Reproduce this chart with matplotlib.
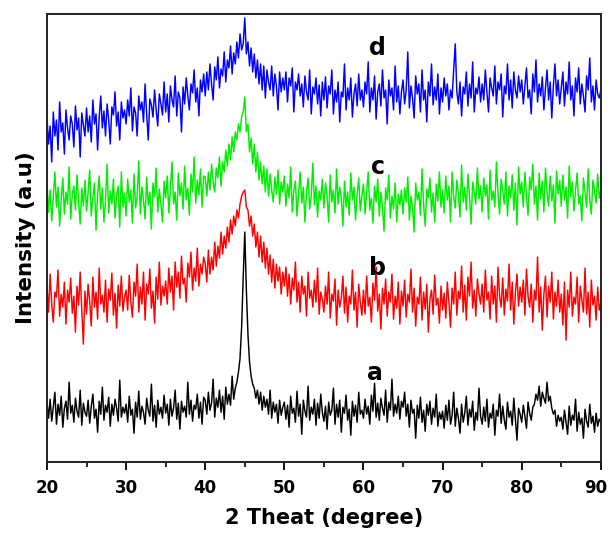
import numpy as np
import matplotlib
matplotlib.use("Agg")
import matplotlib.pyplot as plt
from matplotlib.ticker import MultipleLocator
from matplotlib.transforms import ScaledTranslation

# --------------------------------------------------
# 1. Data (0.2 deg steps from 20 to 90)
#    one line = 5 degrees
# --------------------------------------------------
start_deg = 20.0
step_deg = 0.2

series_a = [
    60, 44, 63, 41, 55, 70, 38, 58, 47, 66, 35, 54, 61, 43, 80, 49, 57, 40, 64, 51, 45, 72, 37, 59, 50,
    46, 62, 39, 56, 68, 44, 53, 30, 61, 48, 75, 42, 57, 50, 65, 36, 58, 47, 63, 54, 41, 82, 45, 55, 49,
    58, 40, 66, 47, 53, 29, 60, 45, 71, 43, 56, 50, 38, 64, 52, 46, 78, 41, 57, 35, 62, 48, 55, 44, 67,
    49, 58, 37, 63, 46, 54, 72, 43, 59, 33, 61, 50, 56, 45, 80, 48, 62, 41, 57, 53, 68, 44, 60, 38, 65,
    62, 48, 70, 52, 59, 83, 45, 64, 55, 72, 50, 66, 43, 75, 58, 68, 57, 86, 63, 74, 80, 90, 104, 135, 185,
    230, 172, 128, 100, 86, 78, 74, 64, 72, 58, 70, 52, 66, 55, 63, 48, 72, 44, 60, 50, 58, 39, 62, 47, 55,
    60, 43, 57, 35, 66, 49, 54, 40, 71, 46, 58, 28, 62, 51, 45, 76, 42, 55, 48, 63, 37, 59, 44, 68, 50,
    41, 56, 33, 60, 47, 52, 74, 38, 58, 45, 62, 30, 55, 49, 67, 42, 53, 27, 61, 46, 57, 40, 70, 48, 52,
    44, 63, 48, 56, 38, 67, 51, 79, 45, 59, 42, 64, 54, 47, 72, 40, 60, 52, 83, 46, 58, 49, 66, 43, 61,
    55, 70, 46, 58, 35, 62, 49, 53, 24, 57, 44, 65, 40, 52, 31, 58, 47, 61, 38, 54, 45, 68, 36, 50, 43,
    51, 34, 57, 42, 62, 38, 47, 70, 36, 54, 44, 29, 58, 40, 49, 66, 37, 53, 45, 61, 32, 50, 42, 74, 46,
    38, 55, 41, 63, 35, 49, 44, 58, 27, 52, 46, 68, 39, 56, 42, 33, 60, 45, 51, 37, 64, 43, 22, 54, 48,
    40, 57, 46, 34, 60, 49, 42, 55, 58, 68, 62, 76, 56, 70, 64, 59, 80, 61, 66, 54, 48, 52, 36, 47, 41,
    45, 33, 52, 40, 28, 56, 37, 47, 42, 63, 31, 50, 38, 44, 24, 53, 41, 35, 58, 39, 46, 30, 49, 36, 43,
    40,
]

series_b = [
    175, 150, 188, 158, 140, 170, 165, 192, 146, 168, 155, 180, 138, 172, 160, 184, 149, 166, 130, 176, 157, 190, 152, 118, 171,
    148, 178, 160, 136, 185, 155, 170, 143, 194, 158, 167, 150, 182, 140, 173, 162, 189, 147, 169, 134, 177, 156, 186, 151, 165,
    172, 152, 187, 160, 145, 180, 166, 198, 150, 175, 158, 190, 142, 178, 168, 193, 154, 171, 139, 185, 163, 200, 157, 176, 166,
    181, 158, 194, 170, 186, 152, 200, 175, 190, 164, 206, 178, 184, 160, 199, 185, 210, 172, 194, 181, 214, 176, 198, 188, 205,
    198, 180, 212, 188, 205, 192, 220, 196, 216, 204, 230, 208, 226, 214, 235, 220, 242, 228, 246, 236, 252, 244, 258, 266, 270,
    272, 255, 252, 236, 246, 226, 238, 215, 230, 205, 226, 200, 220, 194, 214, 188, 207, 180, 203, 174, 198, 181, 195, 168, 190,
    176, 195, 166, 188, 158, 184, 172, 200, 160, 180, 150, 186, 168, 176, 146, 190, 164, 172, 155, 182, 160, 194, 148, 170, 163,
    150, 176, 158, 190, 144, 168, 161, 183, 137, 172, 155, 164, 186, 149, 175, 140, 166, 158, 192, 152, 170, 135, 178, 160, 147,
    172, 148, 186, 156, 165, 140, 179, 162, 195, 151, 168, 133, 174, 158, 183, 146, 170, 160, 188, 143, 166, 154, 180, 138, 171,
    156, 182, 145, 168, 160, 193, 150, 174, 136, 165, 158, 185, 142, 170, 153, 178, 130, 163, 172, 148, 187, 157, 164, 139, 176,
    152, 169, 144, 180, 160, 135, 174, 158, 190, 147, 171, 163, 196, 150, 177, 142, 185, 166, 200, 154, 172, 146, 183, 168, 158,
    178, 150, 192, 162, 170, 143, 186, 158, 176, 140, 195, 166, 155, 184, 147, 173, 161, 198, 152, 180, 138, 169, 188, 156, 175,
    160, 182, 147, 193, 166, 155, 178, 140, 172, 162, 205, 150, 175, 132, 168, 186, 145, 176, 160, 190, 143, 170, 156, 182, 150,
    168, 137, 180, 122, 172, 155, 190, 146, 165, 158, 185, 140, 176, 162, 150, 194, 148, 170, 135, 182, 157, 166, 142, 175, 152,
    160,
]

series_c = [
    280, 250, 272, 241, 266, 290, 255, 275, 236, 262, 284, 248, 270, 258, 295, 243, 268, 276, 252, 287, 260, 238, 274, 256, 282,
    251, 270, 292, 246, 264, 279, 232, 268, 286, 253, 274, 240, 262, 298, 249, 271, 258, 283, 244, 267, 276, 235, 290, 255, 269,
    246, 283, 260, 272, 239, 288, 254, 266, 301, 248, 275, 262, 243, 285, 257, 270, 233, 279, 265, 294, 250, 273, 258, 240, 281,
    264, 286, 249, 275, 300, 258, 270, 242, 289, 266, 279, 253, 296, 262, 274, 247, 288, 270, 305, 259, 282, 267, 293, 255, 286,
    285, 266, 290, 272, 298, 280, 270, 294, 284, 305, 276, 300, 290, 312, 296, 318, 302, 325, 310, 330, 322, 338, 330, 345, 350,
    365, 330, 338, 310, 324, 298, 318, 290, 310, 282, 300, 278, 296, 270, 293, 266, 288, 272, 260, 285, 268, 292, 258, 280, 270,
    286, 256, 278, 264, 295, 250, 272, 281, 246, 268, 290, 259, 275, 240, 270, 284, 253, 266, 299, 257, 276, 245, 271, 262, 283,
    254, 279, 266, 240, 287, 260, 272, 249, 293, 258, 275, 264, 236, 281, 255, 270, 247, 289, 262, 275, 242, 268, 284, 251, 266,
    278, 248, 269, 290, 252, 264, 239, 276, 260, 283, 246, 270, 255, 231, 274, 262, 287, 244, 266, 253, 279, 240, 268, 257, 272,
    248, 274, 260, 285, 242, 266, 255, 230, 279, 262, 270, 247, 293, 258, 236, 273, 264, 284, 250, 269, 240, 278, 261, 290, 255,
    272, 249, 286, 262, 276, 240, 290, 266, 254, 282, 268, 245, 297, 260, 275, 252, 288, 265, 238, 280, 270, 258, 294, 263, 276,
    250, 284, 266, 277, 243, 292, 262, 271, 255, 300, 268, 248, 283, 272, 258, 290, 246, 276, 264, 287, 252, 279, 237, 295, 268,
    280, 255, 290, 266, 247, 285, 272, 298, 258, 276, 242, 289, 263, 281, 250, 294, 270, 256, 286, 261, 277, 239, 291, 268, 282,
    256, 287, 262, 275, 244, 296, 265, 280, 251, 272, 289, 258, 266, 241, 284, 270, 255, 293, 262, 248, 282, 271, 259, 288, 264,
    272,
]

series_d = [
    345, 318, 336, 300, 350, 326, 342, 312, 360, 330, 339, 308, 352, 334, 322, 346, 338, 315, 356, 332, 344, 305, 349, 337, 326,
    354, 330, 346, 320, 362, 338, 348, 312, 345, 366, 334, 351, 326, 358, 342, 318, 355, 347, 370, 336, 350, 322, 360, 344, 352,
    338, 362, 346, 374, 331, 355, 349, 326, 366, 352, 360, 340, 378, 348, 322, 363, 357, 345, 372, 352, 336, 368, 358, 347, 380,
    350, 368, 340, 376, 362, 355, 386, 346, 370, 364, 330, 375, 358, 384, 366, 352, 378, 369, 392, 360, 374, 346, 382, 370, 388,
    366, 390, 372, 398, 378, 362, 395, 382, 405, 374, 393, 386, 410, 380, 402, 394, 416, 388, 409, 398, 420, 404, 428, 412, 418,
    444, 408, 420, 396, 414, 390, 408, 384, 402, 378, 398, 372, 396, 364, 392, 380, 372, 396, 366, 388, 376, 352, 390, 370, 384,
    372, 390, 360, 384, 376, 394, 350, 380, 372, 388, 366, 378, 355, 386, 370, 362, 392, 348, 375, 368, 384, 358, 377, 346, 380,
    362, 385, 354, 376, 368, 392, 348, 372, 360, 380, 340, 370, 365, 398, 352, 374, 362, 384, 345, 368, 378, 356, 388, 362, 372,
    355, 380, 368, 400, 350, 374, 362, 386, 343, 370, 378, 356, 392, 364, 372, 338, 382, 366, 374, 352, 396, 360, 376, 348, 370,
    382, 358, 372, 410, 354, 376, 364, 344, 386, 368, 378, 350, 392, 362, 372, 340, 380, 366, 398, 357, 375, 362, 388, 348, 374,
    360, 384, 366, 378, 352, 372, 364, 392, 418, 370, 358, 380, 346, 375, 368, 390, 356, 378, 364, 400, 350, 374, 368, 385, 360,
    378, 362, 392, 370, 350, 384, 374, 366, 396, 358, 380, 372, 388, 345, 376, 368, 398, 362, 382, 354, 390, 372, 364, 386, 370,
    382, 358, 376, 394, 364, 372, 348, 388, 370, 402, 360, 378, 366, 385, 352, 374, 392, 362, 380, 344, 376, 398, 366, 382, 358,
    374, 390, 356, 380, 368, 400, 362, 376, 346, 384, 370, 394, 358, 378, 366, 350, 386, 372, 404, 360, 376, 352, 382, 368, 364,
    372,
]

labels = ["a", "b", "c", "d"]
colors = ["black", "#ff0000", "#00ee00", "#0000ff"]
label_pos = [(61.5, 89), (61.8, 194), (61.8, 295), (61.8, 414)]

x_ticks = [20, 30, 40, 50, 60, 70, 80, 90]

# --------------------------------------------------
# 2. Plot
# --------------------------------------------------
plt.rcParams["font.family"] = ["DejaVu Sans"]
plt.rcParams["font.weight"] = "bold"

fig = plt.figure(figsize=(6.1, 5.35), dpi=100)
ax = fig.add_axes([0.077, 0.136, 0.908, 0.838])

for ys, col in zip([series_a, series_b, series_c, series_d], colors):
    ys = np.array(ys, dtype=float)
    xs = start_deg + step_deg * np.arange(len(ys))
    ax.plot(xs, ys, color=col, lw=1.05)

for lab, (lx, ly) in zip(labels, label_pos):
    ax.text(lx, ly, lab, fontsize=17, fontweight="bold", ha="center", va="center")

ax.set_xlim(20, 90)
ax.set_ylim(0, 448)
ax.set_xticks(x_ticks)
ax.xaxis.set_minor_locator(MultipleLocator(5))
ax.set_yticks([])
ax.tick_params(axis="x", which="major", direction="out", length=6, width=1.3,
               labelsize=12, pad=6, top=False)
ax.tick_params(axis="x", which="minor", direction="out", length=3.5, width=1.2, top=False)
for lbl in ax.get_xticklabels():
    lbl.set_fontweight("bold")
# last label sits right on the figure edge, nudge it in a little
last = ax.get_xticklabels()[-1]
last.set_transform(last.get_transform() + ScaledTranslation(-4 / 72, 0, fig.dpi_scale_trans))

for sp in ax.spines.values():
    sp.set_linewidth(1.4)
    sp.set_color("#222222")

ax.set_xlabel("2 Theat (degree)", fontsize=15, fontweight="bold", labelpad=8)
ax.set_ylabel("Intensity (a.u)", fontsize=15.5, fontweight="bold", labelpad=8)

fig.savefig("out.png", dpi=100)
